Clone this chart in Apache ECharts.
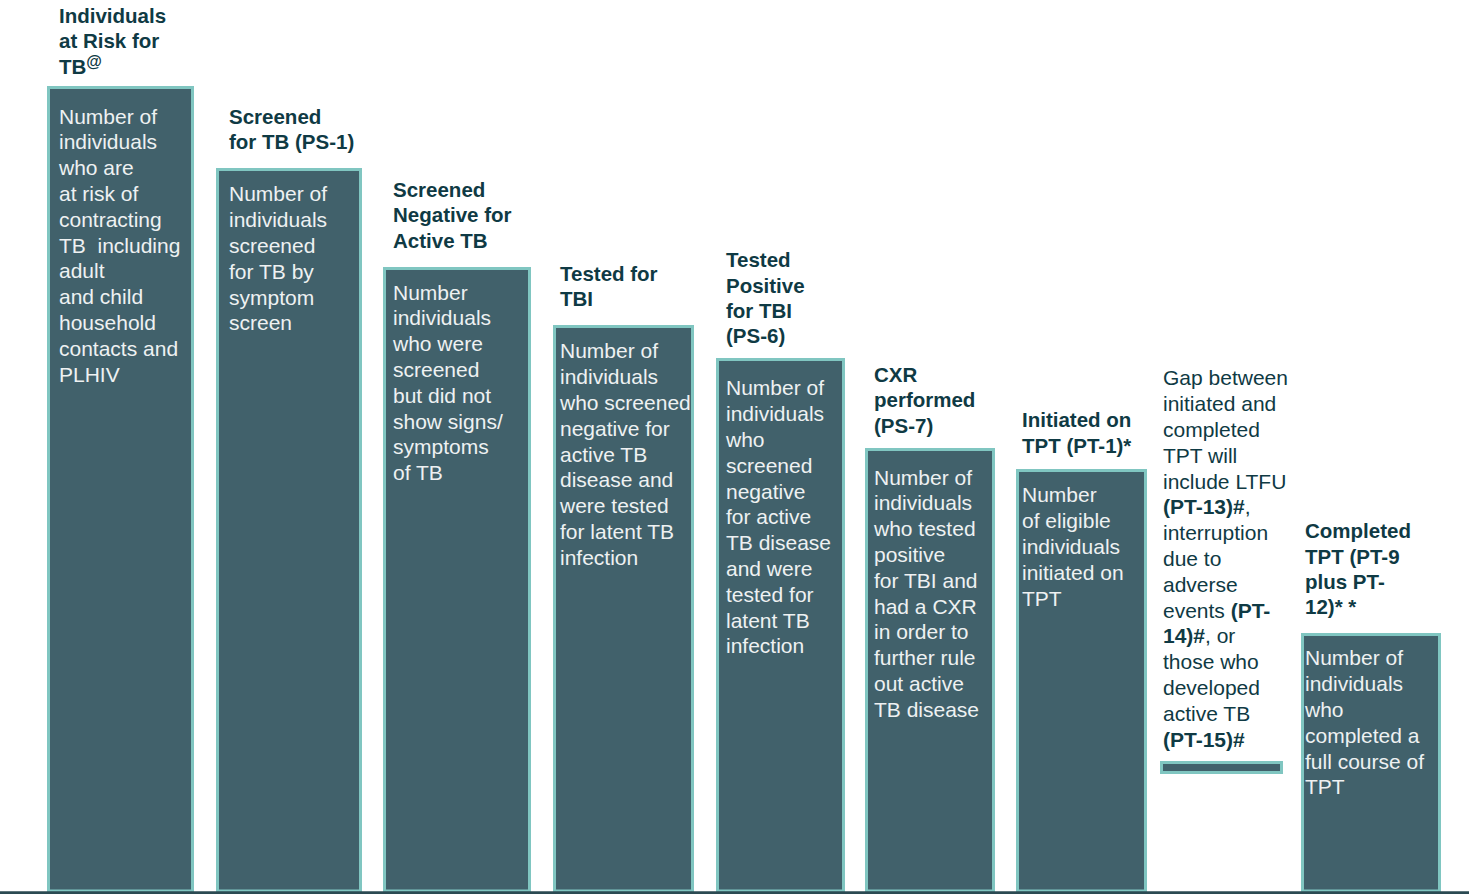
<!DOCTYPE html>
<html>
<head>
<meta charset="utf-8">
<script src="https://cdn.jsdelivr.net/npm/echarts@6/dist/echarts.min.js"></script>
<style>
html,body{margin:0;padding:0;background:#fff;}
#chart{width:1469px;height:894px;}
</style>
</head>
<body>
<div id="chart"></div>
<script>
// ---- data ----
const stageTitles = [
  'Individuals\nat Risk for\nTB{sup|@}',
  'Screened\nfor TB (PS-1)',
  'Screened\nNegative for\nActive TB',
  'Tested for\nTBI',
  'Tested\nPositive\nfor TBI\n(PS-6)',
  'CXR\nperformed\n(PS-7)',
  'Initiated on\nTPT (PT-1)*',
  '{n|Gap between}\n{n|initiated and}\n{n|completed}\n{n|TPT will}\n{n|include LTFU}\n{b|(PT-13)#}{n|,}\n{n|interruption}\n{n|due to}\n{n|adverse}\n{n|events }{b|(PT-}\n{b|14)#}{n|, or}\n{n|those who}\n{n|developed}\n{n|active TB}\n{b|(PT-15)#}',
  'Completed\nTPT (PT-9\nplus PT-\n12)* *'
];
const stageDescriptions = [
  'Number of\nindividuals\nwho are\nat risk of\ncontracting\nTB\u00a0 including\nadult\nand child\nhousehold\ncontacts and\nPLHIV',
  'Number of\nindividuals\nscreened\nfor TB by\nsymptom\nscreen',
  'Number\nindividuals\nwho were\nscreened\nbut did not\nshow signs/\nsymptoms\nof TB',
  'Number of\nindividuals\nwho screened\nnegative for\nactive TB\ndisease and\nwere tested\nfor latent TB\ninfection',
  'Number of\nindividuals\nwho\nscreened\nnegative\nfor active\nTB disease\nand were\ntested for\nlatent TB\ninfection',
  'Number of\nindividuals\nwho tested\npositive\nfor TBI and\nhad a CXR\nin order to\nfurther rule\nout active\nTB disease',
  'Number\nof eligible\nindividuals\ninitiated on\nTPT',
  '',
  'Number of\nindividuals\nwho\ncompleted a\nfull course of\nTPT'
];
// bar extents along the x axis (axis units)
const barStart = [47, 216, 383, 553, 716, 865, 1016, 1160, 1301];
const barEnd   = [194, 362, 531, 694, 845, 995, 1147, 1283, 1441];
// bar values (y axis, % of scale)
const barTop    = [90.36, 81.18, 70.08, 63.59, 59.89, 49.80, 47.45, 14.73, 29.08];
const barBottom = [0, 0, 0, 0, 0, 0, 0, 13.28, 0];

// ---- styles ----
const FILL = '#41616b';
const BORDER = '#80c6c1';
const TITLE = '#0f3a44';
const BODY = '#eef1f2';
const BW = 3;
const FONT = '"Liberation Sans", Arial, sans-serif';
const textInset = [12, 13, 10, 7, 10, 9, 6, 3, 4];
const titleGap = [20, 26, 27, 26, 22, 23, 24, 22, 26];   // last title line centre above bar top
const bodyGap = [30, 26, 25, 26, 30, 29, 26, 0, 25];     // first body line centre below bar top

const data = barStart.map((s, i) => [s, barEnd[i], barBottom[i], barTop[i], i]);

const chart = echarts.init(document.getElementById('chart'), null, {renderer: 'svg'});
chart.setOption({
  animation: false,
  grid: {left: 0, right: 0, top: 0, bottom: 1.5},
  xAxis: {
    type: 'value', min: 0, max: 1469,
    axisLine: {show: true, onZero: false, lineStyle: {color: '#2b4a52', width: 3.5}},
    axisTick: {show: false}, axisLabel: {show: false}, splitLine: {show: false},
    z: 10
  },
  yAxis: {
    type: 'value', min: 0, max: 100,
    axisLine: {show: false}, axisTick: {show: false}, axisLabel: {show: false}, splitLine: {show: false}
  },
  series: [{
    type: 'custom',
    clip: false,
    data: data,
    renderItem: function (params, api) {
      const i = api.value(4);
      const tl = api.coord([api.value(0), api.value(3)]);
      const br = api.coord([api.value(1), api.value(2)]);
      const x0 = tl[0], x1 = br[0], yTop = tl[1], yBot = br[1];
      const children = [{
        type: 'rect',
        shape: {x: x0 + BW / 2, y: yTop + BW / 2, width: x1 - x0 - BW, height: yBot - yTop - BW},
        style: {fill: FILL, stroke: BORDER, lineWidth: BW}
      }];
      const tx = x0 + textInset[i];
      if (stageDescriptions[i]) {
        children.push({
          type: 'text',
          x: tx, y: yTop + bodyGap[i] - 12.9,
          style: {
            text: stageDescriptions[i],
            fill: BODY,
            fontFamily: FONT,
            fontSize: 21,
            lineHeight: 25.8,
            align: 'left', verticalAlign: 'top'
          }
        });
      }
      const isGap = i === 7;
      const lh = isGap ? 25.8 : 25.4;
      children.push({
        type: 'text',
        x: tx, y: yTop - titleGap[i] + lh / 2,
        style: {
          text: stageTitles[i],
          fill: TITLE,
          fontFamily: FONT,
          fontSize: isGap ? 21 : 20.5,
          fontWeight: isGap ? 'normal' : 'bold',
          lineHeight: lh,
          align: 'left', verticalAlign: 'bottom',
          rich: {
            sup: {fontSize: 16, fontWeight: 'bold', fill: TITLE, fontFamily: FONT, lineHeight: 25.4, verticalAlign: 'top', padding: [0, 0, 7, 0]},
            n: {fontSize: 21, fontWeight: 'normal', fill: TITLE, fontFamily: FONT, lineHeight: 25.8},
            b: {fontSize: 21, fontWeight: 'bold', fill: TITLE, fontFamily: FONT, lineHeight: 25.8}
          }
        }
      });
      return {type: 'group', children: children};
    }
  }]
});
</script>
</body>
</html>
